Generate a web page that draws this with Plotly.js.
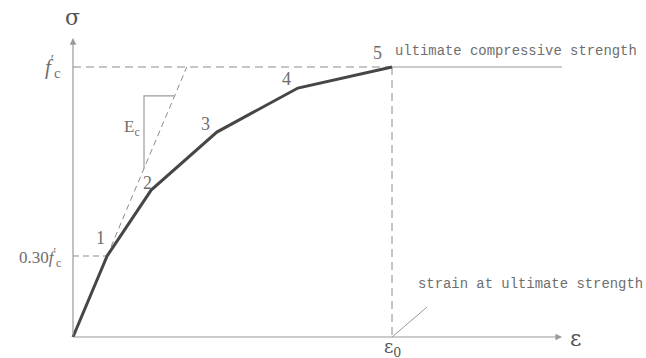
<!DOCTYPE html>
<html>
<head>
<meta charset="utf-8">
<script src="https://cdn.plot.ly/plotly-3.0.1.min.js"></script>
<style>
  html, body { margin: 0; padding: 0; background: #fff; }
  #chart { width: 646px; height: 358px; }
</style>
</head>
<body>
<div id="chart"></div>
<script>
// Concrete stress-strain curve (stress normalised by f'c, strain by eps0)
const strain = [0, 0.107, 0.245, 0.451, 0.705, 1.0];
const stress = [0, 0.30, 0.544, 0.759, 0.922, 1.0];
const pointLabels = ['', '1', '2', '3', '4', '5'];

// Construction values
const fcLevel = 1.0;          // ultimate compressive strength f'c
const eps0 = 1.0;             // strain at ultimate strength
const lowLevel = 0.30;        // 0.30 f'c
const plateauEnd = 1.533;     // end of the horizontal line past point 5
const xAxisEnd = 1.533;
const yAxisEnd = 1.107;
const triLeft = 0.2226;       // slope triangle for Ec
const triTop = 0.893;

const Ec = stress[1] / strain[1];   // initial tangent modulus

const grey = '#9a9a9a';
const dashGrey = '#8c8c8c';
const textGrey = '#6e6e6e';
const mono = 'Liberation Mono, monospace';
const serif = 'Liberation Serif, DejaVu Serif, serif';

const traces = [];

// Ec secant (dashed) from point 1 up to f'c level
traces.push({
  x: [strain[1], fcLevel / Ec], y: [stress[1], fcLevel],
  mode: 'lines', line: {color: dashGrey, width: 1, dash: '6px,4px'}, hoverinfo: 'skip'
});
// slope triangle
traces.push({
  x: [triLeft, triLeft, triTop / Ec], y: [triLeft * Ec, triTop, triTop],
  mode: 'lines', line: {color: grey, width: 1.2}, hoverinfo: 'skip'
});
// f'c dashed reference
traces.push({
  x: [0, eps0], y: [fcLevel, fcLevel],
  mode: 'lines', line: {color: dashGrey, width: 1, dash: '8px,5px'}, hoverinfo: 'skip'
});
// eps0 dashed reference
traces.push({
  x: [eps0, eps0], y: [fcLevel, 0],
  mode: 'lines', line: {color: dashGrey, width: 1, dash: '8px,5px'}, hoverinfo: 'skip'
});
// 0.30 f'c dashed reference
traces.push({
  x: [0, strain[1]], y: [lowLevel, lowLevel],
  mode: 'lines', line: {color: dashGrey, width: 1, dash: '6px,4px'}, hoverinfo: 'skip'
});
// plateau after ultimate strength
traces.push({
  x: [eps0, plateauEnd], y: [fcLevel, fcLevel],
  mode: 'lines', line: {color: grey, width: 1.2}, hoverinfo: 'skip'
});
// leader for "strain at ultimate strength"
traces.push({
  x: [eps0, eps0 + 0.11], y: [0, 0.111],
  mode: 'lines', line: {color: grey, width: 1}, hoverinfo: 'skip'
});
// stress-strain curve
traces.push({
  x: strain, y: stress,
  mode: 'lines', line: {color: '#464646', width: 3}, hoverinfo: 'skip'
});

const annotations = [];
// axes with arrowheads
annotations.push({
  x: xAxisEnd, y: 0, ax: 0, ay: 0, xref: 'x', yref: 'y', axref: 'x', ayref: 'y',
  showarrow: true, arrowhead: 2, arrowsize: 1.1, arrowwidth: 1.2, arrowcolor: grey, text: ''
});
annotations.push({
  x: 0, y: yAxisEnd, ax: 0, ay: 0, xref: 'x', yref: 'y', axref: 'x', ayref: 'y',
  showarrow: true, arrowhead: 2, arrowsize: 1.1, arrowwidth: 1.2, arrowcolor: grey, text: ''
});

function label(x, y, text, size, opts) {
  annotations.push(Object.assign({
    x: x, y: y, xref: 'x', yref: 'y', text: text, showarrow: false,
    font: {family: serif, size: size, color: textGrey}, xanchor: 'center', yanchor: 'middle'
  }, opts || {}));
}

// point numbers
const labelOffsets = [null, [-0.022, 0.065], [-0.012, 0.027], [-0.035, 0.03], [-0.035, 0.035], [-0.044, 0.052]];
for (let i = 1; i < strain.length; i++) {
  label(strain[i] + labelOffsets[i][0], stress[i] + labelOffsets[i][1], pointLabels[i], 18);
}

// axis symbols
const symFont = {family: 'DejaVu Serif, serif', size: 22, color: '#555'};
label(-0.003, 1.185, 'σ', 22, {font: symFont});
label(1.574, -0.005, 'ε', 22, {font: symFont});
label(eps0, -0.040, 'ε<sub>0</sub>', 18, {font: {family: 'DejaVu Serif, serif', size: 18, color: '#555'}});

// stress level labels
label(-0.031, fcLevel, '<i>f</i><sup>\u2032</sup><sub>c</sub>', 21, {xanchor: 'right'});
label(-0.031, lowLevel - 0.005, '0.30<i>f</i><sup>\u2032</sup><sub>c</sub>', 17, {xanchor: 'right'});

// modulus
label(0.185, 0.775, 'E<sub>c</sub>', 17);

// descriptive notes
const noteFont = {family: mono, size: 13.9, color: textGrey};
label(1.003, 1.059, 'ultimate compressive strength', 14, {xanchor: 'left', font: noteFont});
label(1.075, 0.196, 'strain at ultimate strength', 14, {xanchor: 'left', font: noteFont});

const layout = {
  width: 646, height: 358,
  margin: {l: 0, r: 0, t: 0, b: 0, pad: 0},
  paper_bgcolor: '#fff', plot_bgcolor: '#fff',
  showlegend: false,
  xaxis: {range: [-0.2288, 1.7962], visible: false, fixedrange: true},
  yaxis: {range: [-0.0778, 1.2481], visible: false, fixedrange: true},
  annotations: annotations
};

Plotly.newPlot('chart', traces, layout, {staticPlot: true, displayModeBar: false});
</script>
</body>
</html>
